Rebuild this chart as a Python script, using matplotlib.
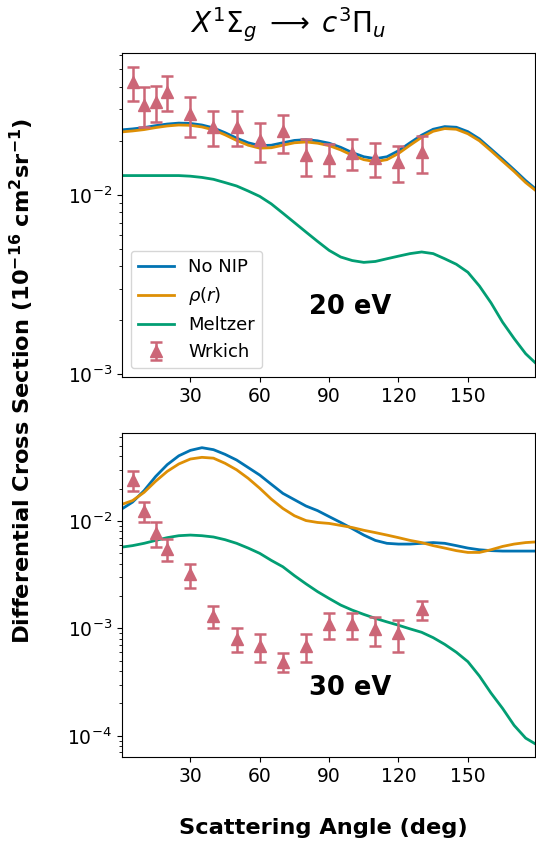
import matplotlib
matplotlib.use("Agg")
import matplotlib.pyplot as plt
import numpy as np

angles = [0, 5, 10, 15, 20, 25, 30, 35, 40, 45, 50, 55, 60, 65, 70, 75, 80, 85, 90,
          95, 100, 105, 110, 115, 120, 125, 130, 135, 140, 145, 150, 155, 160, 165,
          170, 175, 180]

# 20 eV
nonip_20 = [0.0230, 0.0233, 0.0237, 0.0243, 0.0248, 0.0251, 0.0250, 0.0245, 0.0236,
            0.0222, 0.0207, 0.0195, 0.0188, 0.0189, 0.0195, 0.0201, 0.0203, 0.0200,
            0.0194, 0.0184, 0.0172, 0.0163, 0.0159, 0.0163, 0.0176, 0.0195, 0.0215,
            0.0232, 0.0240, 0.0238, 0.0225, 0.0205, 0.0180, 0.0158, 0.0138, 0.0120,
            0.0106]
rho_20 = [0.0224, 0.0227, 0.0231, 0.0237, 0.0242, 0.0245, 0.0244, 0.0239, 0.0230,
          0.0216, 0.0201, 0.0189, 0.0182, 0.0183, 0.0189, 0.0195, 0.0197, 0.0194,
          0.0188, 0.0178, 0.0166, 0.0157, 0.0153, 0.0157, 0.0170, 0.0189, 0.0209,
          0.0226, 0.0234, 0.0232, 0.0219, 0.0200, 0.0176, 0.0154, 0.0135, 0.0117,
          0.0104]
meltzer_20 = [0.0128, 0.0128, 0.0128, 0.0128, 0.0128, 0.0128, 0.0127, 0.0125, 0.0122,
              0.0117, 0.0112, 0.0105, 0.0098, 0.0089, 0.0079, 0.0070, 0.0062, 0.0055,
              0.0049, 0.0045, 0.0043, 0.0042, 0.00425, 0.0044, 0.00455, 0.0047, 0.0048,
              0.0047, 0.0044, 0.0041, 0.0037, 0.0031, 0.0025, 0.00195, 0.00158, 0.00130,
              0.00113]
exp_angles = [5, 10, 15, 20, 30, 40, 50, 60, 70, 80, 90, 100, 110, 120, 130]
wrkich_20 = [0.0423, 0.0318, 0.0329, 0.0375, 0.0282, 0.0239, 0.0239, 0.0202, 0.0226,
             0.0166, 0.0160, 0.0171, 0.0160, 0.0152, 0.0173]
wrkich_20_err = [0.0090, 0.0080, 0.0073, 0.0083, 0.0071, 0.0053, 0.0053, 0.0049, 0.0054,
                 0.0038, 0.0032, 0.0033, 0.0035, 0.0034, 0.0040]

# 30 eV
nonip_30 = [0.0128, 0.0150, 0.0192, 0.0260, 0.0335, 0.0405, 0.0455, 0.0482, 0.0462,
            0.0418, 0.0370, 0.0315, 0.0268, 0.0220, 0.0181, 0.0158, 0.0138, 0.0125,
            0.0110, 0.0097, 0.0085, 0.0074, 0.0066, 0.0062, 0.0061, 0.0061, 0.0062,
            0.0063, 0.0062, 0.0059, 0.0056, 0.0054, 0.0053, 0.00525, 0.00525, 0.00525,
            0.00525]
rho_30 = [0.0142, 0.0155, 0.0185, 0.0235, 0.0290, 0.0340, 0.0378, 0.0392, 0.0385,
          0.0345, 0.0300, 0.0250, 0.0202, 0.0160, 0.0131, 0.0112, 0.0101, 0.0097,
          0.0095, 0.0091, 0.0087, 0.0082, 0.0078, 0.0074, 0.0070, 0.0066, 0.0063,
          0.0059, 0.0056, 0.0053, 0.0051, 0.0051, 0.0054, 0.0058, 0.0061, 0.0063,
          0.0064]
meltzer_30 = [0.0057, 0.0059, 0.0062, 0.0066, 0.0070, 0.0073, 0.0074, 0.0073, 0.0071,
              0.0067, 0.0062, 0.0056, 0.0050, 0.0043, 0.00375, 0.0031, 0.0026, 0.0022,
              0.0019, 0.00165, 0.00148, 0.00135, 0.00124, 0.00115, 0.00107, 0.00099,
              0.00092, 0.00082, 0.00071, 0.00060, 0.00049, 0.00036, 0.00025, 0.00018,
              0.000125, 0.000095, 0.000082]
wrkich_30 = [0.0243, 0.0124, 0.0077, 0.0055, 0.0032, 0.0013, 0.0008, 0.00069, 0.00049,
             0.00069, 0.0011, 0.0011, 0.00099, 0.0009, 0.0015]
wrkich_30_err = [0.0052, 0.0027, 0.0020, 0.0013, 0.0008, 0.0003, 0.0002, 0.0002, 0.0001,
                 0.0002, 0.0003, 0.0003, 0.0003, 0.0003, 0.0003]

xticks = [30, 60, 90, 120, 150]

c_blue = "#0173b2"
c_orange = "#de8f05"
c_green = "#029e73"
c_data = "#cc6677"

fig = plt.figure(figsize=(5.36, 8.47), dpi=100)
ax1 = fig.add_axes([0.227, 0.5545, 0.771, 0.3833])
ax2 = fig.add_axes([0.227, 0.1059, 0.771, 0.3825])

def panel(ax, nonip, rho, melt, exp, err, label, lx, ly, ylim, legend):
    ax.plot(angles, nonip, color=c_blue, lw=2, label="No NIP")
    ax.plot(angles, rho, color=c_orange, lw=2, label=r"$\rho(r)$")
    ax.plot(angles, melt, color=c_green, lw=2, label="Meltzer")
    ax.errorbar(exp_angles, exp, yerr=err, fmt="^", color=c_data, ms=9,
                capsize=4, elinewidth=1.8, capthick=1.8, label="Wrkich")
    ax.set_yscale("log")
    ax.set_xlim(0.3, 179)
    ax.set_ylim(*ylim)
    ax.set_xticks(xticks)
    ax.tick_params(labelsize=13.5)
    ax.text(lx, ly, label, fontsize=18.5, fontweight="bold", ha="center", va="center")
    if legend:
        ax.legend(loc="lower left", fontsize=13, handlelength=2.0)

panel(ax1, nonip_20, rho_20, meltzer_20, wrkich_20, wrkich_20_err, "20 eV",
      99, 0.00237, (9.6e-4, 6.2e-2), True)
panel(ax2, nonip_30, rho_30, meltzer_30, wrkich_30, wrkich_30_err, "30 eV",
      99, 0.000278, (6.3e-5, 0.0656), False)

fig.text(288 / 536, 1 - 25 / 847, r"$X^1\Sigma_g\;\longrightarrow\;c^3\Pi_u$",
         fontsize=20, ha="center", va="center")
fig.text(22 / 536, 1 - 381 / 847,
         r"Differential Cross Section ($\mathbf{10^{-16}\ cm^2 sr^{-1}}$)",
         rotation=90, fontsize=16.2, fontweight="bold", ha="center", va="center")
fig.text(323 / 536, 1 - 828 / 847, "Scattering Angle (deg)", fontsize=16.2,
         fontweight="bold", ha="center", va="center")

fig.savefig("out.png", dpi=100)
